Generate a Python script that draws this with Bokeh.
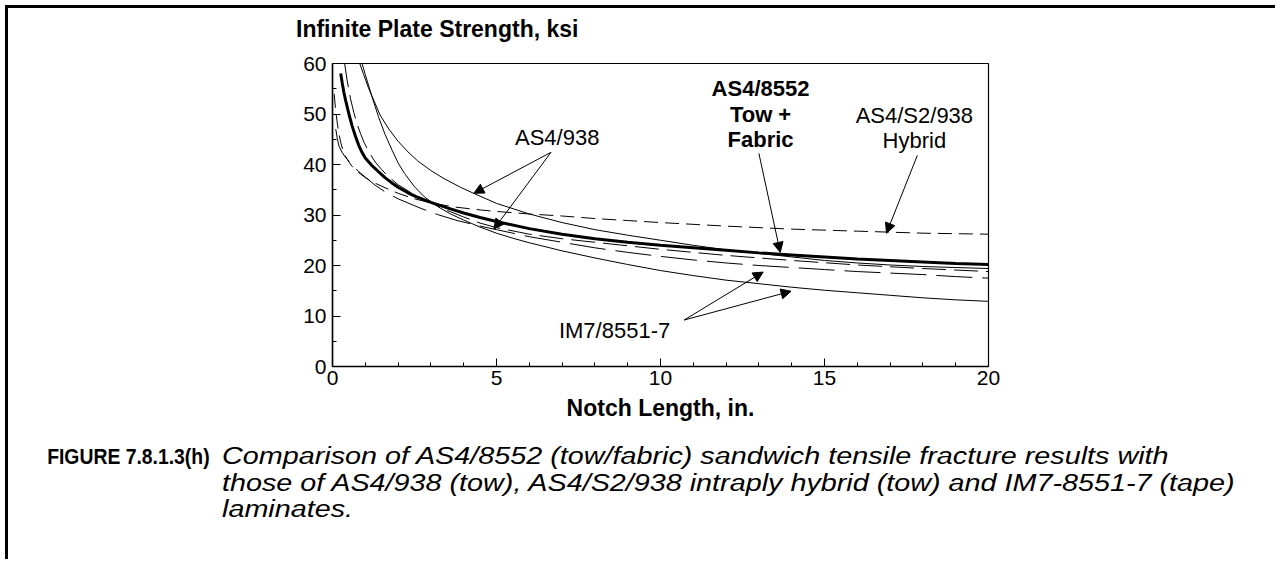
from bokeh.plotting import figure
from bokeh.layouts import column
from bokeh.models import Range1d, FixedTicker, Label, Arrow, NormalHead, Div
from bokeh.embed import file_html
from bokeh.resources import INLINE

# ---- data ----
x_as4_8552 = [0.25, 0.3, 0.35, 0.4, 0.5, 0.6, 0.7, 0.8, 0.9, 1.0, 1.2, 1.4, 1.6, 1.8, 2.0, 2.3, 2.6, 3.0, 3.5, 4.0, 4.5,
              5, 6, 7, 8, 9, 10, 11, 12, 13, 14, 15, 16, 17, 18, 19, 20]
y_as4_8552 = [58, 56, 54.2, 52.7, 50.0, 47.6, 45.6, 43.8, 42.4, 41.3, 39.8, 38.6, 37.4, 36.4, 35.5, 34.4, 33.5, 32.5, 31.4,
              30.4, 29.5, 28.7, 27.3, 26.2, 25.3, 24.6, 24.0, 23.5, 23.0, 22.5, 22.1, 21.7, 21.3, 21.0, 20.7, 20.4, 20.2]

x_as4_938_a = [0.83, 0.95, 1.1, 1.26, 1.45, 1.72, 2.0, 2.3, 2.6, 3.0, 3.4, 3.9, 4.3, 5, 6, 7, 8, 9, 10, 11, 12, 13, 14,
               15, 16, 17, 18, 19, 20]
y_as4_938_a = [60, 57.8, 55.1, 52.7, 49.8, 47.0, 44.6, 42.5, 40.7, 38.8, 37.2, 35.5, 34.3, 32.3, 30.2, 28.5, 27.1, 26.0,
               25.0, 24.0, 23.1, 22.4, 21.7, 21.0, 20.5, 20.1, 19.8, 19.6, 19.4]

x_as4_938_b = [0.37, 0.45, 0.55, 0.65, 0.75, 0.85, 0.96, 1.1, 1.3, 1.5, 1.7, 2.0, 2.4, 3.0, 3.5, 4.0, 4.5, 5, 6, 7, 8, 9,
               10, 12, 14, 16, 18, 20]
y_as4_938_b = [60, 56.5, 53, 50.3, 48, 46.2, 44.4, 42.6, 40.5, 39, 37.6, 36.0, 34.4, 32.4, 30.9, 29.6, 28.4, 27.5, 26.2,
               25.3, 24.6, 23.9, 23.2, 22.0, 21.0, 20.1, 19.4, 18.8]

x_hybrid = [0.05, 0.1, 0.15, 0.2, 0.25, 0.3, 0.4, 0.5, 0.6, 0.8, 1.0, 1.3, 1.6, 2.0, 2.5, 3.0, 3.7, 4.5, 5, 6, 7, 8, 9,
            10, 12, 14, 16, 18, 20]
y_hybrid = [54, 50.5, 48, 46, 44.4, 43.2, 41.6, 40.5, 39.6, 38.4, 37.4, 36.3, 35.4, 34.3, 33.2, 32.4, 31.6, 31.0, 30.7,
            30.2, 29.8, 29.3, 28.9, 28.5, 27.8, 27.2, 26.8, 26.4, 26.2]

x_im7_a = [0.9, 1.0, 1.2, 1.4, 1.6, 1.82, 2.0, 2.2, 2.5, 2.8, 3.2, 3.6, 4.0, 4.5, 5, 5.5, 6, 7, 8, 9, 10, 11, 12, 13, 14,
           15, 16, 17, 18, 19, 20]
y_im7_a = [60, 57.8, 53.5, 49.5, 46.0, 42.8, 40.3, 38.2, 35.6, 33.6, 31.7, 30.2, 29.0, 27.6, 26.4, 25.4, 24.5, 22.9, 21.5,
           20.2, 19.0, 18.0, 17.1, 16.4, 15.7, 15.1, 14.6, 14.1, 13.6, 13.2, 12.9]

x_im7_b = [0.1, 0.15, 0.2, 0.3, 0.4, 0.6, 0.8, 1.0, 1.3, 1.6, 2.0, 2.7, 3.2, 3.8, 4.5, 5, 6, 7, 8, 9, 10, 11, 12, 13, 14,
           15, 16, 17, 18, 19, 20]
y_im7_b = [47, 45, 43.6, 42.3, 41.4, 39.9, 38.6, 37.5, 35.9, 34.6, 33.2, 31.3, 30.1, 28.9, 27.8, 27.1, 25.7, 24.6, 23.5,
           22.6, 21.8, 21.1, 20.5, 20.0, 19.6, 19.2, 18.8, 18.5, 18.2, 17.8, 17.5]

x_ticks = [0, 5, 10, 15, 20]
x_minor = [1, 2, 3, 4, 6, 7, 8, 9, 11, 12, 13, 14, 16, 17, 18, 19]
y_ticks = [0, 10, 20, 30, 40, 50, 60]
y_minor = [5, 15, 25, 35, 45, 55]

y_title = "Infinite Plate Strength, ksi"
x_title = "Notch Length, in."
caption_head = "FIGURE 7.8.1.3(h)"
caption_lines = [
    "Comparison of AS4/8552 (tow/fabric) sandwich tensile fracture results with",
    "those of AS4/938 (tow), AS4/S2/938 intraply hybrid (tow) and IM7-8551-7 (tape)",
    "laminates.",
]

FONT = "Liberation Sans"
W = 1267

# ---- y-axis title, written horizontally above the chart (HTML text) ----
top_html = ('<div style="position:relative;width:%dpx;height:40px;font-family:\'Liberation Sans\';color:black;">'
            '<span style="position:absolute;left:288px;top:10px;font-size:23px;line-height:1;font-weight:bold;'
            'white-space:nowrap;">%s</span></div>' % (W, y_title))
top = Div(text=top_html, width=W, height=40, margin=0)

# ---- main chart ----
p = figure(width=W, height=382, output_backend="svg", toolbar_location=None,
           x_range=Range1d(0, 20), y_range=Range1d(0, 60),
           min_border_left=324, min_border_right=287, min_border_top=15, min_border_bottom=64)
p.grid.visible = False
p.outline_line_color = "black"
p.outline_line_width = 1.2
p.background_fill_color = "white"
p.border_fill_color = "white"

for ax in (p.xaxis[0], p.yaxis[0]):
    ax.axis_line_color = "black"
    ax.axis_line_width = 1.5
    ax.major_tick_in = 8
    ax.major_tick_out = 0
    ax.minor_tick_in = 4
    ax.minor_tick_out = 0
    ax.major_tick_line_color = "black"
    ax.minor_tick_line_color = "black"
    ax.major_label_text_font = FONT
    ax.major_label_text_font_size = "21px"
    ax.major_label_text_color = "black"

p.xaxis.ticker = FixedTicker(ticks=x_ticks, minor_ticks=x_minor)
p.yaxis.ticker = FixedTicker(ticks=y_ticks, minor_ticks=y_minor)
p.xaxis.major_label_standoff = 4
p.yaxis.major_label_standoff = 6
p.xaxis.axis_label = x_title
p.xaxis.axis_label_text_font = FONT
p.xaxis.axis_label_text_font_style = "bold"
p.xaxis.axis_label_text_font_size = "23px"
p.xaxis.axis_label_text_color = "black"
p.xaxis.axis_label_standoff = 7

# curves
p.line(x_hybrid, y_hybrid, line_color="black", line_width=1, line_dash="14 7")
p.line(x_im7_b, y_im7_b, line_color="black", line_width=1, line_dash="36 10")
p.line(x_as4_938_b, y_as4_938_b, line_color="black", line_width=1, line_dash="24 8")
p.line(x_as4_938_a, y_as4_938_a, line_color="black", line_width=1)
p.line(x_im7_a, y_im7_a, line_color="black", line_width=1)
p.line(x_as4_8552, y_as4_8552, line_color="black", line_width=3)


def lab(x, y, text, bold=False):
    p.add_layout(Label(x=x, y=y, text=text, text_font=FONT, text_font_size="22px",
                       text_font_style="bold" if bold else "normal", text_align="center",
                       text_baseline="middle", text_color="black"))


def arrow(x0, y0, x1, y1):
    p.add_layout(Arrow(end=NormalHead(size=10, fill_color="black", line_color="black"),
                       x_start=x0, y_start=y0, x_end=x1, y_end=y1,
                       line_color="black", line_width=1))


lab(6.85, 45.3, "AS4/938")
arrow(6.66, 42.4, 4.31, 34.3)
arrow(6.66, 42.4, 4.92, 27.2)

lab(13.05, 55.05, "AS4/8552", bold=True)
lab(13.05, 49.9, "Tow +", bold=True)
lab(13.05, 44.9, "Fabric", bold=True)
arrow(13.0, 42.2, 13.65, 22.6)

lab(17.74, 49.7, "AS4/S2/938")
lab(17.74, 44.8, "Hybrid")
arrow(17.83, 41.8, 16.89, 26.4)

lab(8.6, 7.2, "IM7/8551-7")
arrow(10.72, 9.2, 13.13, 18.7)
arrow(10.72, 9.2, 13.98, 14.9)

# ---- caption (HTML text below the chart) ----
span = ('<span style="position:absolute;{pos};top:{top}px;font-size:{size}px;line-height:1;'
        'white-space:nowrap;font-weight:{w};font-style:{s};transform:scaleX({sx});'
        'transform-origin:{origin} center;">{t}</span>')
parts = [span.format(pos="right:%dpx" % (W - 202), top=16, size=22, w="bold", s="normal",
                     sx=0.88, origin="right", t=caption_head)]
for t, top_px in zip(caption_lines, [15, 42, 68]):
    parts.append(span.format(pos="left:214px", top=top_px, size=23, w="normal", s="italic",
                             sx=1.25, origin="left", t=t))
cap_html = ('<div style="position:relative;width:%dpx;height:129px;font-family:\'Liberation Sans\';'
            'color:black;">' % W) + "".join(parts) + "</div>"
cap = Div(text=cap_html, width=W, height=129, margin=0)

layout = column(top, p, cap, spacing=0)
layout.styles = {"border-top": "3px solid black", "border-left": "3px solid black",
                 "margin-left": "5px", "margin-top": "5px"}

open("out.html", "w").write(file_html(layout, INLINE))
